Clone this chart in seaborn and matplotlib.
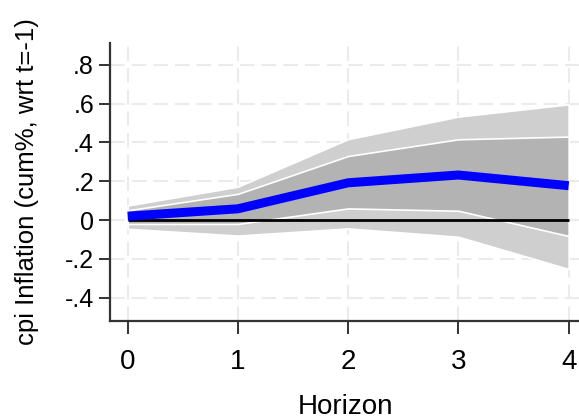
import numpy as np
import pandas as pd
import matplotlib
matplotlib.use("Agg")
import matplotlib.pyplot as plt
import seaborn as sns

# ---- data ----
horizon = [0, 1, 2, 3, 4]
irf = [0.020, 0.058, 0.192, 0.232, 0.177]
ci90_upper = [0.075, 0.172, 0.417, 0.533, 0.596]
ci90_lower = [-0.045, -0.080, -0.043, -0.086, -0.252]
ci68_upper = [0.050, 0.135, 0.330, 0.416, 0.430]
ci68_lower = [-0.020, -0.020, 0.060, 0.048, -0.082]
ytick_values = [-0.4, -0.2, 0.0, 0.2, 0.4, 0.6, 0.8]
ytick_labels = ["-.4", "-.2", "0", ".2", ".4", ".6", ".8"]
xtick_values = [0, 1, 2, 3, 4]
xtick_labels = ["0", "1", "2", "3", "4"]
ylabel_text = "cpi Inflation (cum%, wrt t=-1)"
xlabel_text = "Horizon"

df = pd.DataFrame({"horizon": horizon, "irf": irf})

sns.set_theme(style="white")
plt.rcParams["font.family"] = ["Liberation Sans", "DejaVu Sans"]
plt.rcParams["text.color"] = "black"
plt.rcParams["xtick.color"] = "black"
plt.rcParams["ytick.color"] = "black"
plt.rcParams["axes.labelcolor"] = "black"
fam = ["Liberation Sans", "DejaVu Sans"]

fig = plt.figure(figsize=(5.79, 4.20), dpi=100)
ax = fig.add_axes([0.19, 0.2357, 0.815, 0.6619])

grid_kw = dict(color="#ebebeb", lw=1.5, linestyle=(0, (7.0, 3.4)), zorder=0)
for yv in ytick_values:
    ax.axhline(yv, **grid_kw)
for xv in xtick_values:
    ax.axvline(xv, **grid_kw)

ax.fill_between(horizon, ci90_lower, ci90_upper, facecolor="#cfcfcf",
                edgecolor="white", lw=1.2, zorder=1)
ax.fill_between(horizon, ci68_lower, ci68_upper, facecolor="#b3b3b3",
                edgecolor="white", lw=1.2, zorder=2)
ax.plot([horizon[0], horizon[-1]], [0, 0], color="black", lw=2.0,
        solid_capstyle="butt", zorder=3)
sns.lineplot(data=df, x="horizon", y="irf", ax=ax, color="#0000ff",
             lw=6.5, zorder=4, legend=False)
ax.lines[-1].set_solid_capstyle("butt")

ax.set_xlim(-0.16, 4.12)
ax.set_ylim(-0.52, 0.912)

ax.set_yticks(ytick_values)
ax.set_yticklabels(ytick_labels, fontsize=18, family=fam)
ax.set_xticks(xtick_values)
ax.set_xticklabels(xtick_labels, fontsize=20, family=fam)

ax.tick_params(axis="y", direction="out", length=8, width=1.4, color="#333333",
               labelcolor="black", pad=3.5, left=True)
ax.tick_params(axis="x", direction="out", length=9.4, width=1.4, color="#333333",
               labelcolor="black", pad=11, bottom=True)

for side in ["top", "right"]:
    ax.spines[side].set_visible(False)
for side in ["left", "bottom"]:
    ax.spines[side].set_color("#333333")
    ax.spines[side].set_linewidth(1.6)

ax.set_ylabel(ylabel_text, fontsize=18.5, family=fam, color="black")
ax.yaxis.set_label_coords(-0.15, 0.5)
ax.set_xlabel(xlabel_text, fontsize=20, family=fam, color="black")
ax.xaxis.set_label_coords(0.5, -0.262)
ax.xaxis.label.set_va("top")

fig.savefig("out.png", dpi=100)
